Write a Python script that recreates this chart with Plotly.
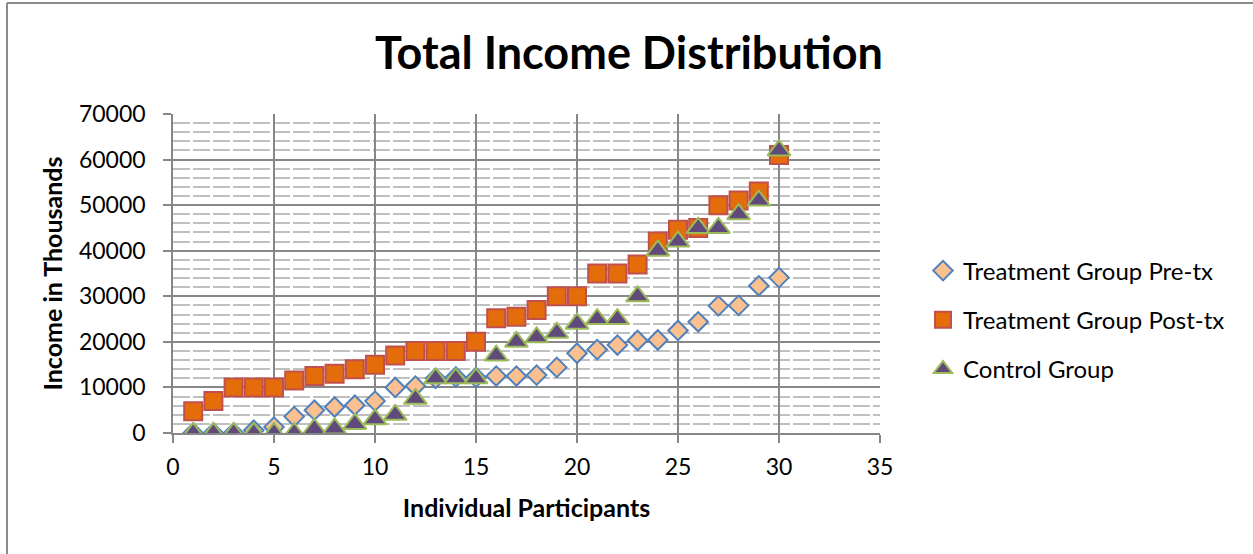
import plotly.graph_objects as go

# Participants ranked by income
participants = list(range(1, 31))

pre_tx = [0, 0, 0, 600, 1300, 3600, 5000, 5700, 6100, 7000,
          10000, 10300, 12000, 12300, 12200, 12500, 12500, 12700, 14400, 17500,
          18300, 19300, 20300, 20400, 22500, 24400, 27900, 28000, 32300, 34100]

post_tx = [4800, 7000, 10000, 10000, 10000, 11500, 12500, 13000, 14000, 15000,
           17000, 18000, 18000, 18000, 20000, 25200, 25500, 27000, 30000, 30000,
           35000, 35000, 37000, 42000, 44600, 45000, 50000, 51000, 53000, 61000]

control = [0, 0, 0, 0, 0, 0, 900, 1000, 2000, 3000,
           4000, 7500, 12000, 12000, 12000, 17000, 20000, 21000, 22000, 24000,
           25000, 25000, 30000, 40000, 42000, 45000, 45000, 48000, 51000, 62000]

x_ticks = [0, 5, 10, 15, 20, 25, 30, 35]
y_ticks = [0, 10000, 20000, 30000, 40000, 50000, 60000, 70000]

FONT = "Lato"
W, H = 1253, 554
ML, MR, MT, MB = 173, 373, 114, 121
plot_w = W - ML - MR
plot_h = H - MT - MB


def px_to_paper_x(px):
    return (px - ML) / plot_w


def px_to_paper_y(py):
    return (H - MB - py) / plot_h


fig = go.Figure()

fig.add_trace(go.Scatter(
    x=participants, y=pre_tx, mode="markers", name="Treatment Group Pre-tx",
    legendgroup="a",
    marker=dict(symbol="diamond", size=15, color="#FAC090",
                line=dict(color="#4F81BD", width=2)),
))
fig.add_trace(go.Scatter(
    x=participants, y=post_tx, mode="markers", name="Treatment Group Post-tx",
    legendgroup="b",
    marker=dict(symbol="square", size=18, color="#E46C0A",
                line=dict(color="#C0504D", width=2)),
))
fig.add_trace(go.Scatter(
    x=participants, y=control, mode="markers", name="Control Group",
    legendgroup="c",
    marker=dict(symbol="triangle-up", size=20, color="#604A7B",
                line=dict(color="#9BBB59", width=2)),
))

axis_grey = "#878787"

fig.update_layout(
    width=W, height=H,
    margin=dict(l=ML, r=MR, t=MT, b=MB, autoexpand=False),
    paper_bgcolor="white", plot_bgcolor="white",
    font=dict(family=FONT, color="black"),
    title=dict(text="<b>Total Income Distribution</b>",
               font=dict(family=FONT, size=45, color="black"),
               x=px_to_paper_x(629), xref="paper", xanchor="center",
               y=1 - 53 / H, yanchor="middle"),
    showlegend=True,
    legend=dict(x=px_to_paper_x(923), xanchor="left",
                y=px_to_paper_y(320), yanchor="middle",
                font=dict(family=FONT, size=24, color="black"),
                tracegroupgap=15, bgcolor="rgba(0,0,0,0)"),
    xaxis=dict(
        range=[0, 35], tickvals=x_ticks, ticktext=[str(v) for v in x_ticks],
        showgrid=True, gridcolor=axis_grey, gridwidth=1.5,
        showline=True, linecolor=axis_grey, linewidth=1.5,
        ticks="outside", ticklen=8, tickcolor=axis_grey, tickwidth=1.5,
        tickfont=dict(family=FONT, size=23), ticklabelstandoff=5,
        zeroline=False,
        title=dict(text="<b>Individual Participants</b>",
                   font=dict(family=FONT, size=25), standoff=20),
    ),
    yaxis=dict(
        range=[0, 70000], tickvals=y_ticks, ticktext=[str(v) for v in y_ticks],
        showgrid=True, gridcolor=axis_grey, gridwidth=1.5,
        showline=True, linecolor=axis_grey, linewidth=1.5,
        ticks="outside", ticklen=8, tickcolor=axis_grey, tickwidth=1.5,
        tickfont=dict(family=FONT, size=23), ticklabelstandoff=13,
        zeroline=False,
        minor=dict(dtick=2000, tick0=0, showgrid=True, gridcolor="#BFBFBF",
                   gridwidth=1.5, griddash="17px,3px", ticks=""),
        title=dict(text="<b>Income in Thousands</b>",
                   font=dict(family=FONT, size=25), standoff=9),
    ),
)

# Outer chart frame (top and left edges visible)
frame_grey = "#8C8C8C"
fig.add_shape(type="line", xref="paper", yref="paper",
              x0=px_to_paper_x(7), x1=px_to_paper_x(W + 5),
              y0=px_to_paper_y(3), y1=px_to_paper_y(3),
              line=dict(color=frame_grey, width=2))
fig.add_shape(type="line", xref="paper", yref="paper",
              x0=px_to_paper_x(7), x1=px_to_paper_x(7),
              y0=px_to_paper_y(3), y1=px_to_paper_y(H + 5),
              line=dict(color=frame_grey, width=2))

fig.write_html("out.html")
